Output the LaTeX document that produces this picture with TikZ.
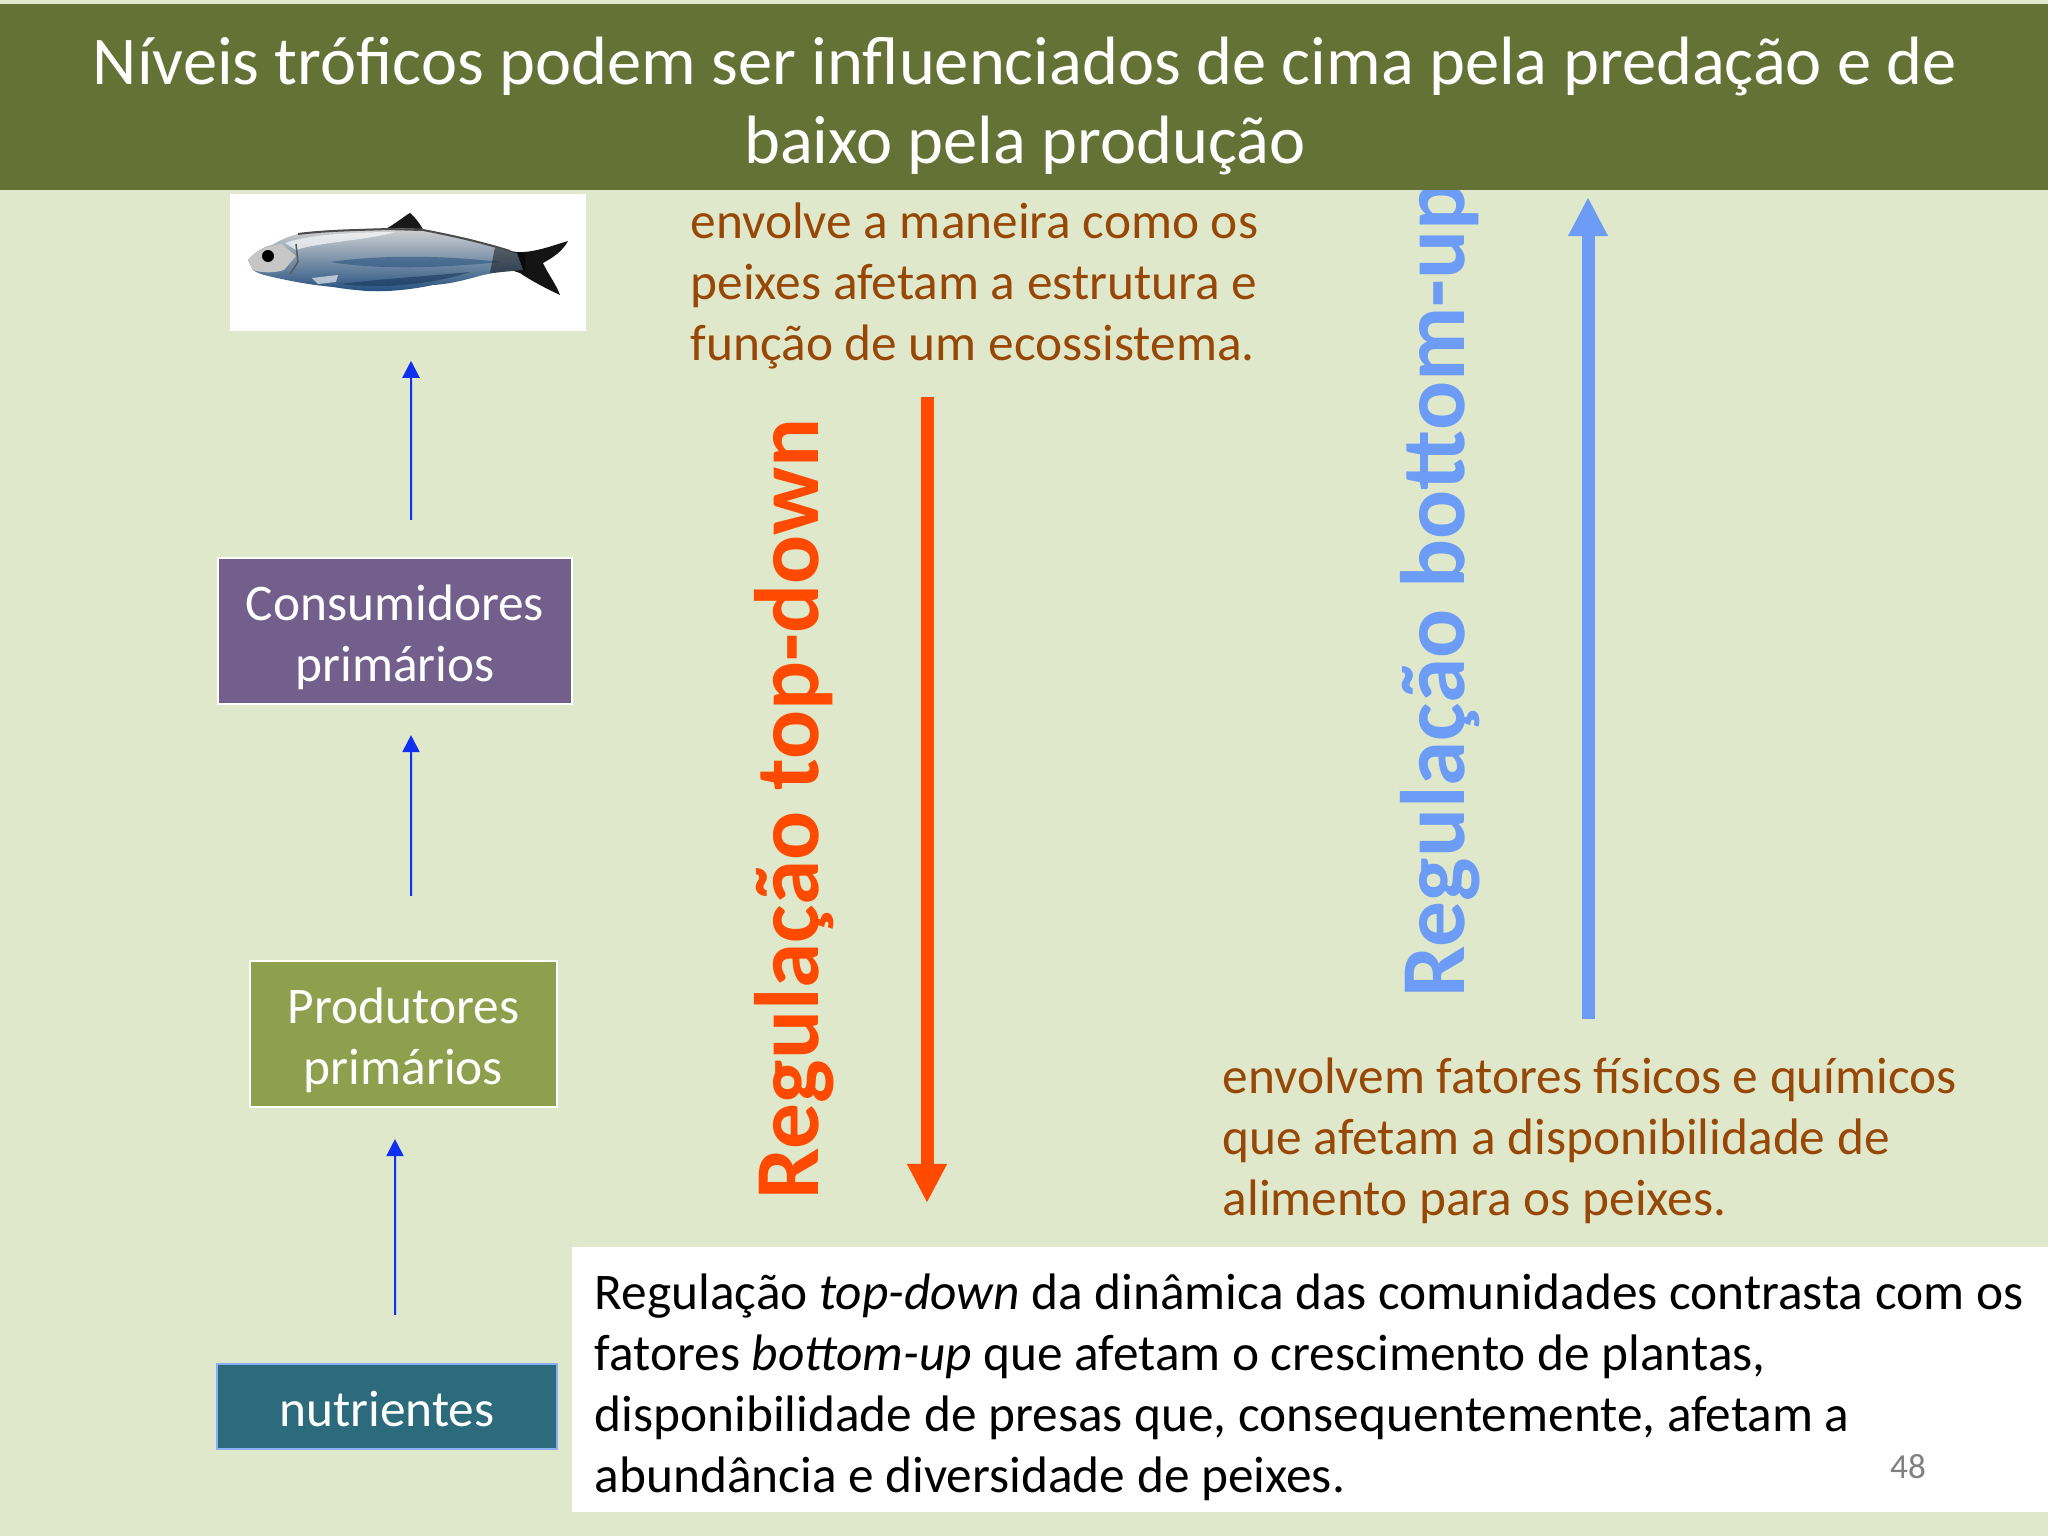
\documentclass[tikz,border=0pt]{standalone}
\usepackage{fontspec}
\setmainfont{Carlito}
\usetikzlibrary{positioning,arrows.meta,calc}
\definecolor{fundo}{HTML}{E0E8CB}
\definecolor{faixa}{HTML}{647236}
\definecolor{roxo}{HTML}{735F8C}
\definecolor{oliva}{HTML}{8EA04D}
\definecolor{petroleo}{HTML}{2B6B7C}
\definecolor{marrom}{HTML}{984806}
\definecolor{vermelho}{HTML}{FF4A00}
\definecolor{azulclaro}{HTML}{6C9CF5}
\definecolor{azulseta}{HTML}{1030F0}
\definecolor{escama}{HTML}{6F9FB8}
\definecolor{ventre}{HTML}{24507F}
\newcommand{\desce}{\rule{0pt}{13.8pt}}
\tikzset{
	nivel/.style={rectangle,draw=white,line width=0.02cm,text=white,inner sep=0pt,align=center,
		font=\fontsize{14.6}{17.2}\selectfont},
	titulo/.style={text=white,align=center,inner sep=0pt,font=\fontsize{19.45}{22.7}\selectfont},
	corpo/.style={anchor=north west,align=left,inner sep=0pt,font=\fontsize{14.6}{17.35}\selectfont},
	regulacao/.style={rotate=90,anchor=base west,inner sep=0pt,font=\fontsize{26}{30}\selectfont\bfseries},
	elo/.style={-{Triangle[width=0.17cm,length=0.17cm]},azulseta,line width=0.02cm},
	grossa/.style={-{Triangle[width=0.37cm,length=0.39cm]},line width=0.13cm}
}
\begin{document}
\begin{tikzpicture}[x=0.01cm,y=-0.01cm]
	\useasboundingbox (0,0) rectangle (2048,1536);
	\fill[fundo] (0,0) rectangle (2048,1536);
	
	% text that runs under the band
	\node[regulacao,text=azulclaro] (bottomup) at (1464,998) {Regulação bottom-up};
	\node[regulacao,text=vermelho] (topdown) at (818.5,1200) {Regulação top-down};
	
	\fill[faixa] (0,4) rectangle (2048,190);
	\node[titulo] (titulo) at (1025,106) {Níveis tróficos podem ser influenciados de cima pela predação e de\\baixo pela produção};
	
	% levels
	\node[rectangle,fill=white,minimum width=3.56cm,minimum height=1.37cm,inner sep=0pt] (peixe) at (408,262.5) {};
	\node[nivel,fill=roxo,minimum width=3.54cm,minimum height=1.46cm] (consumidores) at (395,631) {\desce Consumidores\\primários};
	\node[nivel,fill=oliva,minimum width=3.07cm,minimum height=1.46cm] (produtores) at (403.5,1034) {\desce Produtores\\primários};
	\node[nivel,fill=petroleo,draw=azulclaro!80!white,minimum width=3.40cm,minimum height=0.85cm] (nutrientes) at (387,1406.5) {\rule{0pt}{11.3pt}nutrientes};
	
	% fish
	\fill[black!90] (410,213) .. controls (416,218) and (420,224) .. (424,231) -- (384,230) .. controls (395,224) and (403,217) .. (410,213) -- cycle;
	\fill[black!92] (505,250) .. controls (525,256) and (545,248) .. (568,241) .. controls (562,252) and (552,258) .. (543,263) .. controls (548,274) and (556,284) .. (560,295) .. controls (545,288) and (530,280) .. (520,273) -- (505,268) -- cycle;
	\shade[top color=gray!35,middle color=escama,bottom color=ventre] (248,260) .. controls (255,252) and (265,246) .. (272,245) .. controls (285,237) and (298,233) .. (310,232) .. controls (340,229) and (370,229) .. (387,228) -- (423,229) .. controls (440,233) and (455,236) .. (467,238) .. controls (485,243) and (500,250) .. (517,253) -- (523,270) .. controls (510,271) and (497,272) .. (483,275) .. controls (465,280) and (450,284) .. (433,285) .. controls (410,290) and (385,292) .. (367,291) .. controls (355,290) and (345,289) .. (333,287) .. controls (312,285) and (295,282) .. (277,278) .. controls (268,276) and (258,274) .. (253,270) -- cycle;
	\fill[white,opacity=0.65] (285,243) .. controls (310,234) and (360,232) .. (395,232) .. controls (370,240) and (320,242) .. (296,250) -- cycle;
	\fill[ventre,opacity=0.55] (330,262) .. controls (380,255) and (440,255) .. (500,262) .. controls (440,268) and (380,270) .. (330,262) -- cycle;
	\fill[ventre!70!black,opacity=0.6] (340,284) .. controls (390,278) and (430,276) .. (470,272) .. controls (440,282) and (390,290) .. (340,284) -- cycle;
	\fill[black,opacity=0.45] (495,247) -- (525,254) -- (525,270) -- (490,273) -- cycle;
	\fill[white,opacity=0.6] (312,278) -- (338,275) -- (336,282) -- (318,284) -- cycle;
	\fill[gray!45!white] (248,260) .. controls (256,250) and (266,246) .. (282,244) -- (296,256) -- (284,270) .. controls (272,274) and (258,272) .. (253,270) -- cycle;
	\draw[black!70,line width=0.02cm] (298,234) .. controls (330,230) and (365,230) .. (387,229) -- (423,230) .. controls (450,235) and (485,243) .. (510,251);
	\draw[gray!70!black,line width=0.015cm] (296,244) -- (298,262) -- (290,274);
	\fill[black] (268,256) circle (6);
	
	% connectors
	\path[elo,shorten <=0.37cm,shorten >=0.29cm] ([xshift=0.16cm]consumidores.north) edge ([xshift=0.03cm]peixe.south);
	\path[elo,shorten <=0.64cm,shorten >=0.30cm] ([xshift=0.075cm]produtores.north) edge ([xshift=0.16cm]consumidores.south);
	\path[elo,shorten <=0.48cm,shorten >=0.31cm] ([xshift=0.08cm]nutrientes.north) edge ([xshift=-0.085cm]produtores.south);
	
	\coordinate (a) at (927,397);
	\coordinate (b) at (927,1203);
	\coordinate (c) at (1588,1019);
	\coordinate (d) at (1588,197);
	\draw[grossa,vermelho] (a) -- (b);
	\draw[grossa,azulclaro] (c) -- (d);
	
	% texts
	\node[corpo,text=marrom] (texttop) at (690,202) {envolve a maneira como os\\peixes afetam a estrutura e\\função de um ecossistema.};
	\node[corpo,text=marrom] (textbottom) at (1222,1057) {envolvem fatores físicos e químicos\\que afetam a disponibilidade de\\alimento para os peixes.};
	
	\fill[white] (572,1247) rectangle (2048,1512);
	\node[corpo] (contraste) at (594,1273) {Regulação \textit{top-down} da dinâmica das comunidades contrasta com os\\fatores \textit{bottom-up} que afetam o crescimento de plantas,\\disponibilidade de presas que, consequentemente, afetam a\\abundância e diversidade de peixes.};
	\node[inner sep=0pt,text=black!50,font=\fontsize{10}{12}\selectfont] (pagina) at (1908,1467) {48};
\end{tikzpicture}
\end{document}
